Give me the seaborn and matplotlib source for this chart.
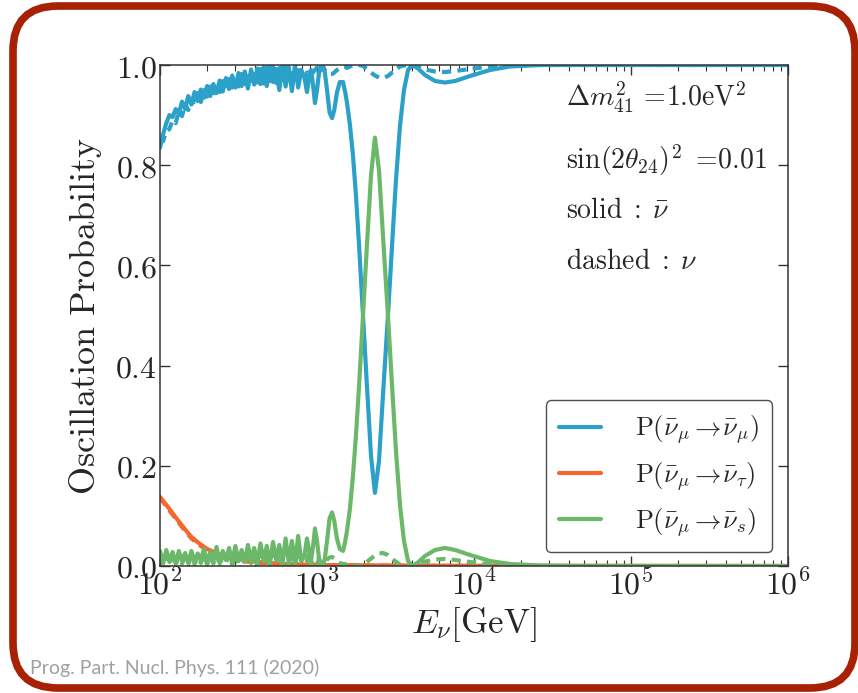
import numpy as np
import pandas as pd
import matplotlib
matplotlib.use("Agg")
import matplotlib.pyplot as plt
import seaborn as sns
from matplotlib.lines import Line2D
from matplotlib.patches import FancyBboxPatch

# ---------------- data (log10 of E in GeV, probabilities) -------------
logE_low = np.round(np.arange(2.0, 2.901, 0.02), 3)   # dense fast-oscillation region grid

blue_solid_low = [0.835, 0.862, 0.884, 0.900, 0.896, 0.912, 0.903, 0.927, 0.912, 0.938,
                  0.921, 0.946, 0.928, 0.951, 0.935, 0.958, 0.938, 0.962, 0.944, 0.969,
                  0.947, 0.974, 0.952, 0.979, 0.955, 0.984, 0.958, 0.987, 0.953, 0.991,
                  0.961, 0.993, 0.962, 0.996, 0.958, 0.998, 0.966, 0.992, 0.950, 1.000,
                  0.957, 0.996, 0.948, 1.000, 0.955, 0.990]
blue_dashed_low = [0.850, 0.848, 0.868, 0.872, 0.890, 0.884, 0.908, 0.898, 0.922, 0.910,
                   0.932, 0.918, 0.944, 0.926, 0.950, 0.933, 0.957, 0.940, 0.963, 0.946,
                   0.968, 0.950, 0.972, 0.955, 0.978, 0.957, 0.982, 0.962, 0.986, 0.960,
                   0.990, 0.965, 0.992, 0.963, 0.995, 0.968, 0.997, 0.964, 0.994, 0.970,
                   0.998, 0.972, 0.990, 0.975, 0.996, 0.968]
green_solid_low = [0.030, 0.005, 0.032, 0.008, 0.028, 0.004, 0.030, 0.010, 0.026, 0.006,
                   0.030, 0.008, 0.025, 0.012, 0.034, 0.006, 0.028, 0.010, 0.038, 0.005,
                   0.030, 0.012, 0.036, 0.006, 0.040, 0.010, 0.032, 0.008, 0.042, 0.012,
                   0.036, 0.006, 0.045, 0.010, 0.040, 0.004, 0.048, 0.012, 0.042, 0.004,
                   0.055, 0.008, 0.050, 0.004, 0.060, 0.010]
green_dashed_low = [0.022, 0.002, 0.020, 0.004, 0.018, 0.002, 0.020, 0.005, 0.017, 0.003,
                    0.021, 0.004, 0.018, 0.006, 0.022, 0.003, 0.019, 0.005, 0.024, 0.002,
                    0.020, 0.006, 0.023, 0.003, 0.025, 0.005, 0.021, 0.004, 0.026, 0.006,
                    0.022, 0.003, 0.027, 0.005, 0.024, 0.002, 0.028, 0.006, 0.025, 0.002,
                    0.030, 0.004, 0.028, 0.002, 0.030, 0.012]

logE_high = [2.92, 2.936, 2.95, 2.962, 2.975, 2.987, 3.0, 3.013, 3.026, 3.038,
             3.05, 3.064, 3.08, 3.096, 3.11, 3.127, 3.145, 3.166, 3.18, 3.191,
             3.21, 3.229, 3.248, 3.268, 3.293, 3.318, 3.344, 3.369, 3.395, 3.42,
             3.452, 3.478, 3.503, 3.529, 3.554, 3.58, 3.605, 3.643, 3.688, 3.752,
             3.815, 3.879, 3.975, 4.102, 4.229, 4.42, 4.675, 5.121, 6.0]

blue_solid_high = [0.975, 0.946, 0.975, 0.990, 0.960, 0.924, 0.950, 0.985, 0.998, 1.000,
                   0.985, 0.950, 0.905, 0.894, 0.910, 0.945, 0.966, 0.966, 0.945, 0.925,
                   0.880, 0.820, 0.740, 0.640, 0.500, 0.360, 0.220, 0.146, 0.210, 0.340,
                   0.500, 0.640, 0.770, 0.880, 0.950, 0.990, 1.000, 0.993, 0.980, 0.968,
                   0.965, 0.968, 0.978, 0.990, 0.997, 1.000, 1.000, 1.000, 1.000]
green_solid_high = [0.020, 0.055, 0.030, 0.010, 0.040, 0.075, 0.050, 0.015, 0.002, 0.000,
                    0.015, 0.050, 0.095, 0.107, 0.090, 0.055, 0.034, 0.030, 0.050, 0.070,
                    0.115, 0.180, 0.260, 0.360, 0.500, 0.640, 0.780, 0.855, 0.790, 0.660,
                    0.500, 0.360, 0.230, 0.120, 0.050, 0.010, 0.000, 0.007, 0.020, 0.032,
                    0.036, 0.032, 0.022, 0.010, 0.004, 0.001, 0.000, 0.000, 0.000]
blue_dashed_high = [0.970, 0.985, 0.972, 0.995, 0.985, 0.990, 0.995, 0.985, 0.990, 0.995,
                    0.990, 0.985, 0.982, 0.982, 0.985, 0.990, 0.994, 0.996, 0.997, 0.994,
                    0.997, 0.999, 1.000, 1.000, 0.998, 0.992, 0.985, 0.979, 0.975, 0.974,
                    0.978, 0.985, 0.992, 0.997, 0.999, 1.000, 1.000, 0.996, 0.991, 0.987,
                    0.986, 0.988, 0.992, 0.997, 0.999, 1.000, 1.000, 1.000, 1.000]
green_dashed_high = [0.020, 0.010, 0.025, 0.003, 0.012, 0.008, 0.004, 0.012, 0.008, 0.004,
                     0.008, 0.013, 0.017, 0.018, 0.015, 0.010, 0.006, 0.004, 0.003, 0.006,
                     0.003, 0.001, 0.000, 0.000, 0.002, 0.008, 0.015, 0.021, 0.025, 0.026,
                     0.022, 0.015, 0.008, 0.003, 0.001, 0.000, 0.000, 0.004, 0.009, 0.013,
                     0.014, 0.012, 0.008, 0.003, 0.001, 0.000, 0.000, 0.000, 0.000]

logE_tau = [2.0, 2.05, 2.10, 2.15, 2.20, 2.25, 2.30, 2.35, 2.40, 2.50, 2.60, 2.70, 2.80,
            3.0, 3.5, 4.0, 6.0]
orange_solid = [0.138, 0.118, 0.097, 0.077, 0.058, 0.045, 0.034, 0.027, 0.021, 0.014,
                0.009, 0.006, 0.004, 0.002, 0.001, 0.0005, 0.0]
orange_dashed = [0.136, 0.115, 0.094, 0.074, 0.055, 0.042, 0.031, 0.024, 0.018, 0.011,
                 0.007, 0.004, 0.003, 0.001, 0.0005, 0.0, 0.0]

legend_labels = [r"$\mathrm{P}(\bar{\nu}_{\mu}\rightarrow\!\bar{\nu}_{\mu})$",
                 r"$\mathrm{P}(\bar{\nu}_{\mu}\rightarrow\!\bar{\nu}_{\tau})$",
                 r"$\mathrm{P}(\bar{\nu}_{\mu}\rightarrow\!\bar{\nu}_{s})$"]
x_ticks = [1e2, 1e3, 1e4, 1e5, 1e6]
x_tick_labels = ["10^{2}", "10^{3}", "10^{4}", "10^{5}", "10^{6}"]
y_ticks = [0.0, 0.2, 0.4, 0.6, 0.8, 1.0]
y_tick_labels = ["0.0", "0.2", "0.4", "0.6", "0.8", "1.0"]
annotations = [r"$\Delta m_{41}^{2}\,=\!1.0\mathrm{eV}^{2}$",
               r"$\sin(2\theta_{24})^{2}\ =\!0.01$",
               r"$\mathrm{solid}\;:\;\bar{\nu}$",
               r"$\mathrm{dashed}\;:\;\nu$"]
citation = "Prog. Part. Nucl. Phys. 111 (2020)"

C_BLUE = "#2ba0c9"
C_ORANGE = "#f4682f"
C_GREEN = "#6cb86a"

# ---------------- style ----------------
sns.set_style("ticks")
plt.rcParams["mathtext.fontset"] = "cm"
plt.rcParams["font.family"] = ["DejaVu Serif"]

fig = plt.figure(figsize=(8.58, 6.93), dpi=100)
fig.patch.set_facecolor("white")

# rounded dark-red frame
frame = FancyBboxPatch((0.13, 0.05), 8.42, 6.82,
                       boxstyle="round,pad=0,rounding_size=0.45",
                       transform=fig.dpi_scale_trans, facecolor="none",
                       edgecolor="#a82104", linewidth=5.5, zorder=0)
fig.patches.append(frame)

ax = fig.add_axes([160 / 858, 1 - 566 / 693, 628 / 858, 501 / 693])
ax.set_facecolor("white")

def series(logx, vals, name, kind):
    return pd.DataFrame({"E": np.power(10.0, np.asarray(logx, float)),
                         "P": np.asarray(vals, float), "name": name, "kind": kind})

logE_all = list(logE_low) + list(logE_high)
curves = [
    (series(logE_all, blue_solid_low + blue_solid_high, "mu", "solid"), C_BLUE, "-"),
    (series(logE_all, blue_dashed_low + blue_dashed_high, "mu", "dashed"), C_BLUE, "--"),
    (series(logE_tau, orange_solid, "tau", "solid"), C_ORANGE, "-"),
    (series(logE_tau, orange_dashed, "tau", "dashed"), C_ORANGE, "--"),
    (series(logE_all, green_solid_low + green_solid_high, "s", "solid"), C_GREEN, "-"),
    (series(logE_all, green_dashed_low + green_dashed_high, "s", "dashed"), C_GREEN, "--"),
]
for df, col, ls in curves:
    sns.lineplot(data=df, x="E", y="P", ax=ax, color=col, linewidth=3.0,
                 estimator=None, sort=False, legend=False)
    line = ax.get_lines()[-1]
    if ls == "--":
        line.set_dashes((2.2, 1.5))

ax.set_xscale("log")
ax.set_xlim(1e2, 1e6)
ax.set_ylim(0.0, 1.0)

ax.set_xticks(x_ticks)
ax.set_xticklabels(["$" + s + "$" for s in x_tick_labels])
ax.set_yticks(y_ticks)
ax.set_yticklabels(["$" + s + "$" for s in y_tick_labels])
ax.tick_params(axis="both", which="major", direction="in", length=7, width=1,
               labelsize=23, top=True, right=True, color="#333333")
ax.tick_params(axis="x", which="major", pad=3)
ax.tick_params(axis="y", which="major", pad=2)
ax.tick_params(axis="x", which="minor", direction="in", length=4, width=0.8,
               top=True, bottom=True, color="#333333")
for sp in ax.spines.values():
    sp.set_color("#333333")
    sp.set_linewidth(1.1)

ax.set_xlabel(r"$E_{\nu}[\mathrm{GeV}]$", fontsize=25, labelpad=2)
ax.set_ylabel(r"$\mathrm{Oscillation\ Probability}$", fontsize=26, labelpad=8)

ypos = [0.935, 0.81, 0.71, 0.607]
for t, y in zip(annotations, ypos):
    ax.text(0.646, y, t, transform=ax.transAxes, fontsize=20, va="center", ha="left")

handles = [Line2D([0], [0], color=c, lw=3.0) for c in (C_BLUE, C_ORANGE, C_GREEN)]
leg = ax.legend(handles, legend_labels, loc="lower right", bbox_to_anchor=(0.975, 0.028),
                borderaxespad=0, fontsize=19, frameon=True, fancybox=True,
                handlelength=1.6, handletextpad=1.3, labelspacing=0.5,
                borderpad=0.5)
leg.get_frame().set_edgecolor("#222222")
leg.get_frame().set_linewidth(1.0)

fig.text(30 / 858, 1 - 668 / 693, citation, color="#a0a0a0", fontsize=14,
         family=["Lato", "DejaVu Sans"], va="center", ha="left")

fig.savefig("out.png", dpi=100, facecolor="white")
